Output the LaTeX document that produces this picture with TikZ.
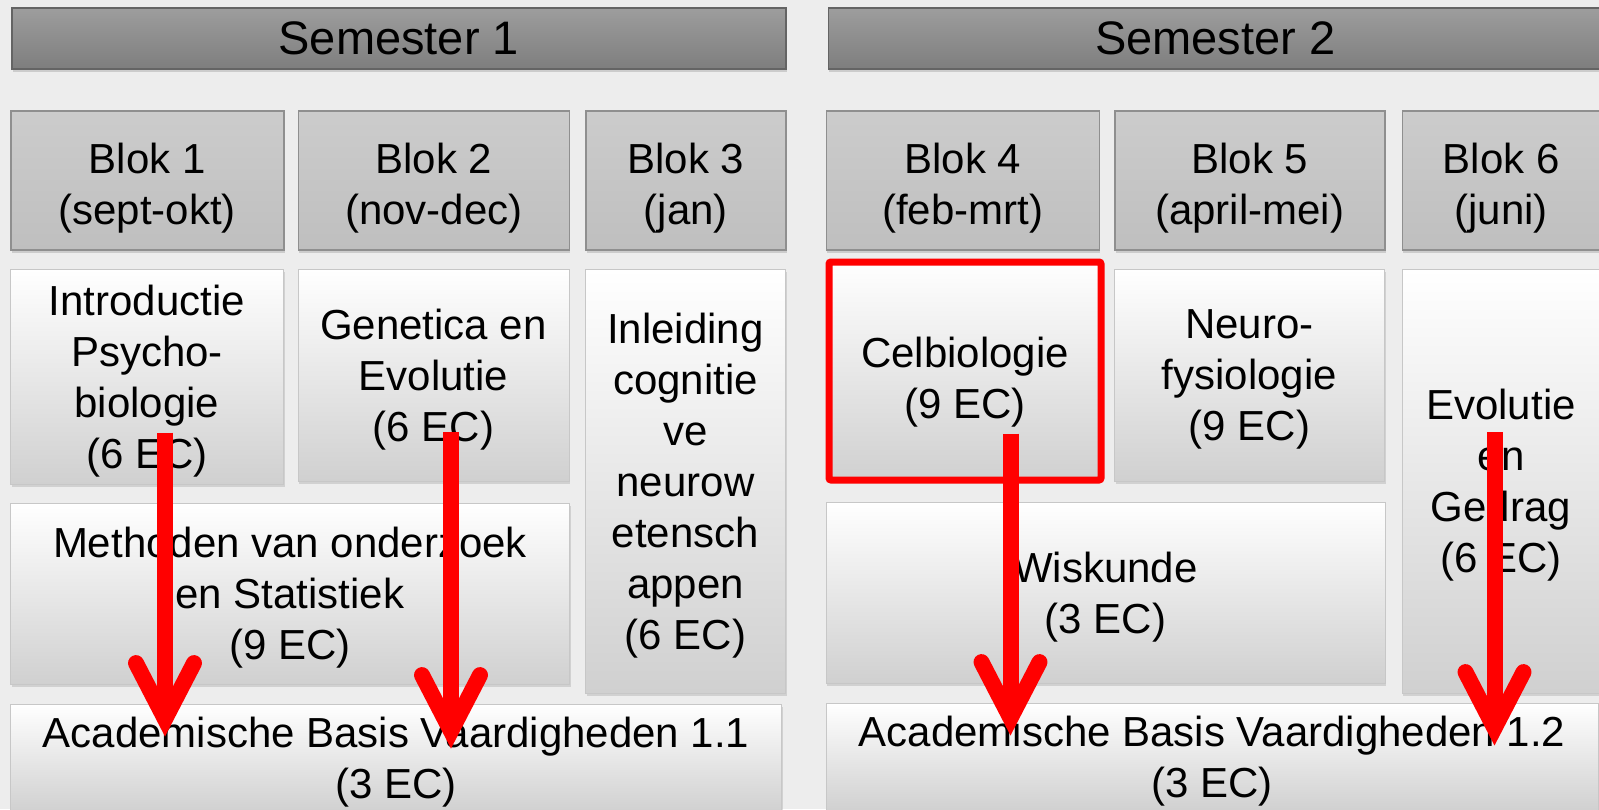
\documentclass[tikz,border=0pt]{standalone}
\usepackage{fontspec}
\setmainfont{Liberation Sans}
\usepackage{tikz}
\usetikzlibrary{arrows.meta, positioning, shadows, calc}

\definecolor{achtergrond}{HTML}{EDEDED}
\definecolor{semgrijs}{HTML}{8C8C8C}
\definecolor{blokgrijs}{HTML}{BFBFBF}
\definecolor{vakgrijs}{HTML}{D0D0D0}
\definecolor{randgrijs}{HTML}{8F8F8F}

\begin{document}
\begin{tikzpicture}[
    x=1pt, y=1pt,
    node distance=18pt,
    every node/.style={font=\fontsize{42}{51}\selectfont, inner sep=0pt},
    semester/.style={
        rectangle,
        draw=randgrijs!70!black,
        line width=1.5pt,
        top color=semgrijs!85!white,
        bottom color=semgrijs!90!black,
        minimum width=774pt,
        minimum height=61pt,
        font=\fontsize{47}{56}\selectfont,
        drop shadow={shadow xshift=1pt, shadow yshift=-3pt, opacity=0.3}
    },
    blok/.style={
        rectangle,
        draw=randgrijs,
        line width=1.5pt,
        top color=blokgrijs!80!white,
        bottom color=blokgrijs,
        minimum height=139pt,
        align=center,
        text height=88pt,
        text depth=0pt,
        drop shadow={shadow xshift=1pt, shadow yshift=-3pt, opacity=0.3}
    },
    vak/.style={
        rectangle,
        draw=randgrijs!50,
        line width=1pt,
        top color=white,
        bottom color=vakgrijs,
        align=center,
        text depth=0pt,
        drop shadow={shadow xshift=1pt, shadow yshift=-3pt, opacity=0.25}
    },
    arrow/.style={red, line width=16pt,
        -{Straight Barb[length=56pt, width=58pt, line cap=round, line join=miter]}}
]

\fill[achtergrond] (0,0) rectangle (1599,-809);
\useasboundingbox (0,0) rectangle (1599,-809);

% semesters
\node (sem1) [semester, anchor=north west] at (11,-7) {Semester 1};
\node (sem2) [semester, right=41pt of sem1] {Semester 2};

% blokken
\node (blok1) [blok, minimum width=273pt, anchor=north west] at (10,-110) {Blok 1\\(sept-okt)};
\node (blok2) [blok, minimum width=271pt, right=13pt of blok1] {Blok 2\\(nov-dec)};
\node (blok3) [blok, minimum width=200pt, right=15pt of blok2] {Blok 3\\(jan)};
\node (blok4) [blok, minimum width=273pt, right=39pt of blok3] {Blok 4\\(feb-mrt)};
\node (blok5) [blok, minimum width=270pt, right=14pt of blok4] {Blok 5\\(april-mei)};
\node (blok6) [blok, minimum width=198pt, right=16pt of blok5] {Blok 6\\(juni)};

% vakken semester 1
\node (intro) [vak, minimum width=273pt, minimum height=215pt, below=18pt of blok1.south west, anchor=north west] {Introductie\\Psycho-\\biologie\\(6 EC)};
\node (genetica) [vak, minimum width=271pt, minimum height=212pt, below=18pt of blok2.south west, anchor=north west] {Genetica en\\Evolutie\\(6 EC)};
\node (inleiding) [vak, minimum width=200pt, minimum height=424pt, below=18pt of blok3.south west, anchor=north west] {Inleiding\\cognitie\\ve\\neurow\\etensch\\appen\\(6 EC)};
\node (methoden) [vak, minimum width=559pt, minimum height=181pt, below=18pt of intro.south west, anchor=north west] {Methoden van onderzoek\\en Statistiek\\(9 EC)};
\node (abv1) [vak, minimum width=771pt, minimum height=108pt, below=19pt of methoden.south west, anchor=north west] {Academische Basis Vaardigheden 1.1\\(3 EC)};

% vakken semester 2
\node (celbio) [vak, draw=red, line width=7pt, rounded corners=2pt, minimum width=272pt, minimum height=218pt, below=8pt of blok4.south west, anchor=north west, text height=94pt] {Celbiologie\\(9 EC)};
\node (neuro) [vak, minimum width=270pt, minimum height=212pt, below=18pt of blok5.south west, anchor=north west] {Neuro-\\fysiologie\\(9 EC)};
\node (evolutie) [vak, minimum width=198pt, minimum height=424pt, below=18pt of blok6.south west, anchor=north west] {Evolutie\\en\\Gedrag\\(6 EC)};
\node (wiskunde) [vak, minimum width=559pt, minimum height=181pt, below=18pt of celbio.south west, anchor=north west] {Wiskunde\\(3 EC)};
\node (abv2) [vak, minimum width=772pt, minimum height=108pt, below=19pt of wiskunde.south west, anchor=north west] {Academische Basis Vaardigheden 1.2\\(3 EC)};

% pijlen
\draw [arrow] ($(intro.south)+(18,52)$) -- ($(intro.south |- abv1.north)+(18,-33)$);
\draw [arrow] ($(genetica.south)+(17.5,49.5)$) -- ($(genetica.south |- abv1.north)+(17.5,-45)$);
\draw [arrow] ($(celbio.south)+(45.5,50)$) -- ($(celbio.south |- abv2.north)+(45.5,-33)$);
\draw [arrow] ($(evolutie.south)+(-6.5,261.5)$) -- ($(evolutie.south |- abv2.north)+(-6.5,-43)$);

\end{tikzpicture}
\end{document}
